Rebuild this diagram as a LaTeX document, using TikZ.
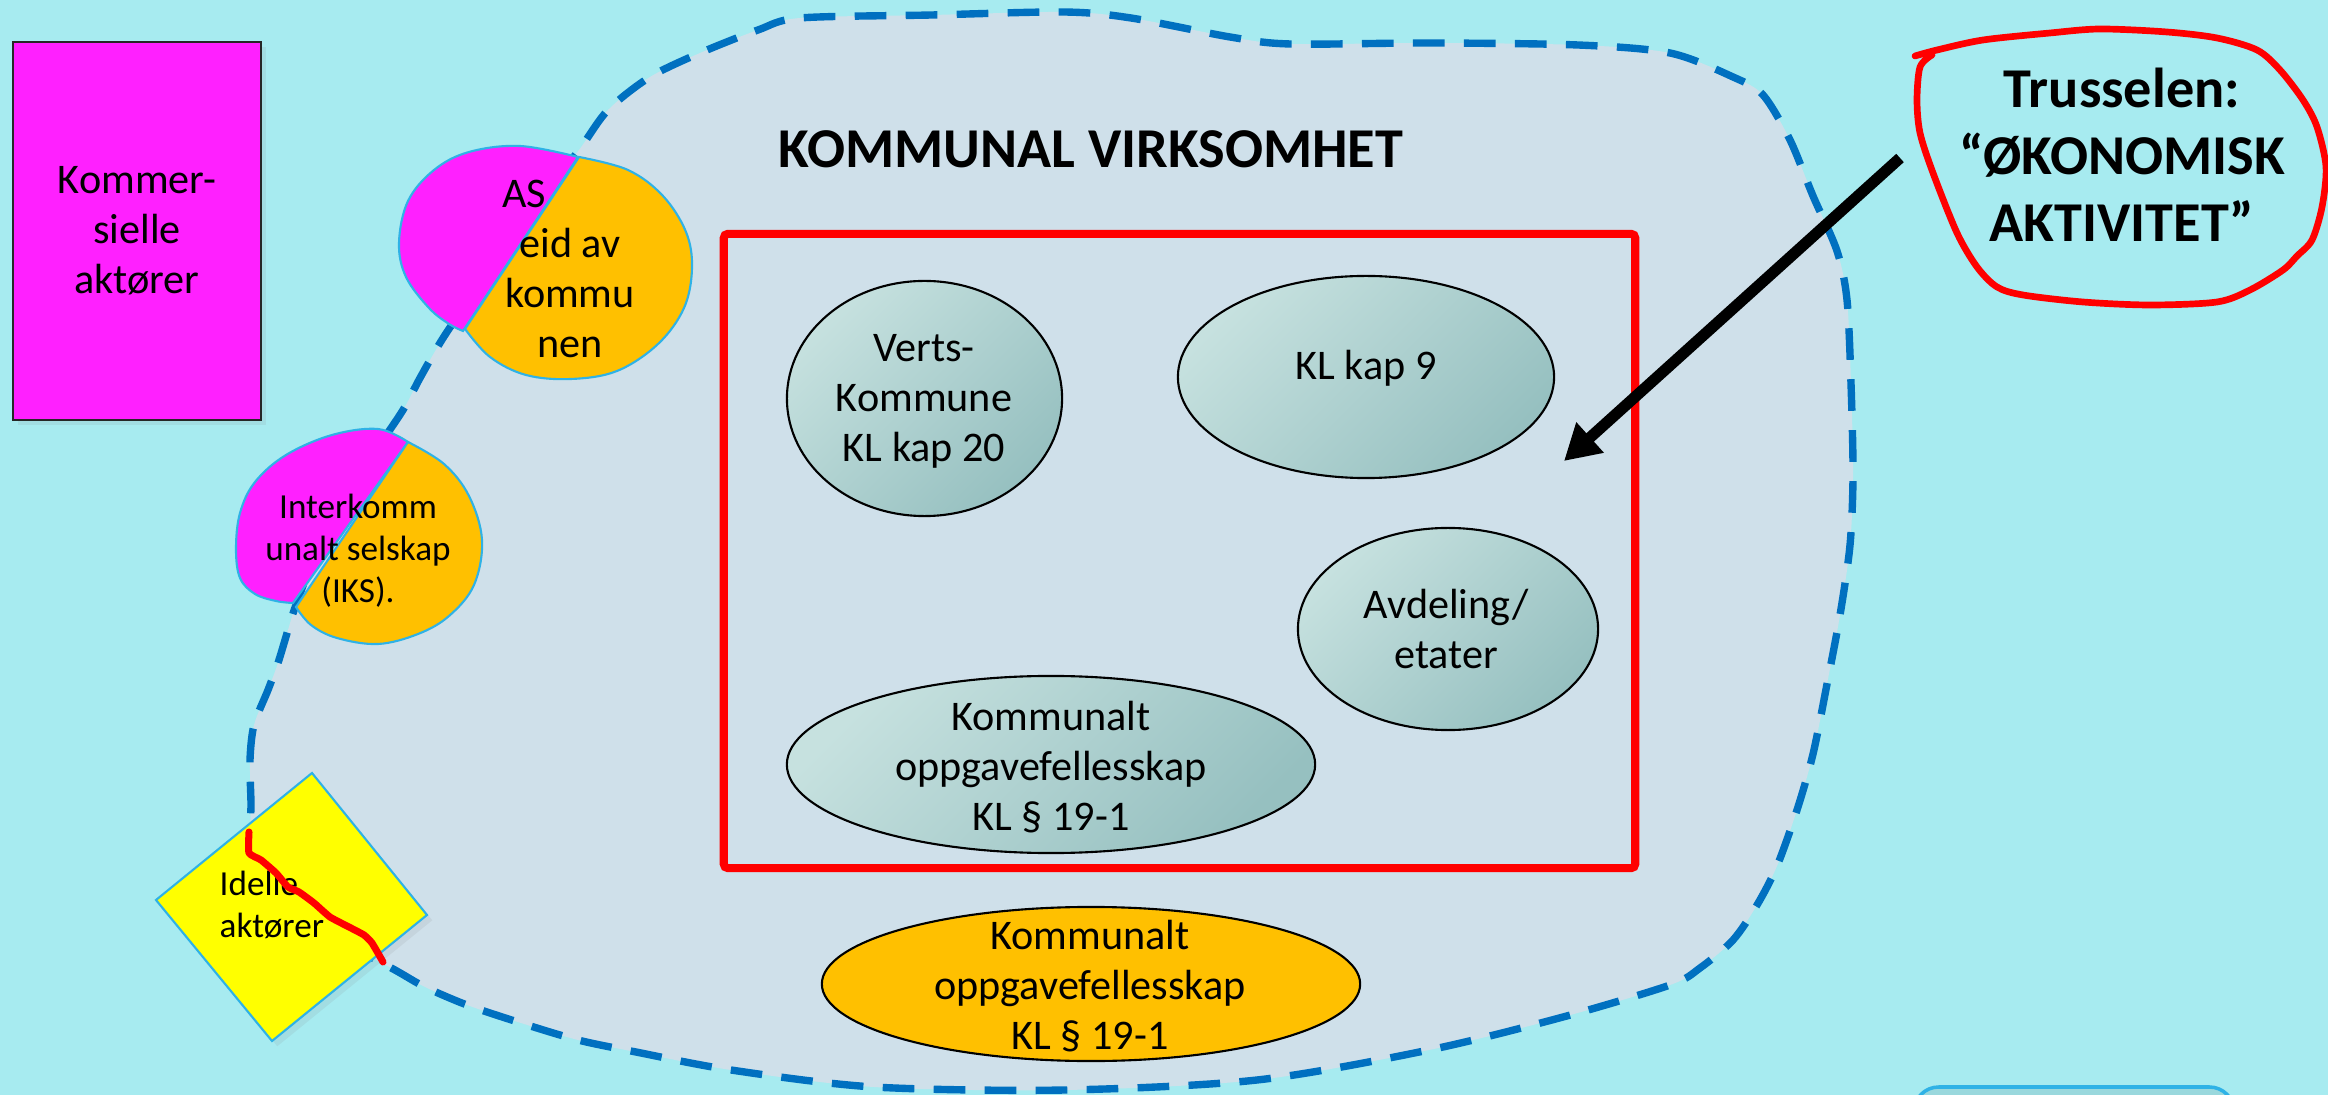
\documentclass[tikz,border=0pt]{standalone}
\usepackage{fontspec}
\setmainfont{Carlito}
\usetikzlibrary{arrows.meta,shadows,shapes.geometric}
\definecolor{bgc}{HTML}{A7EBF0}
\definecolor{blobc}{HTML}{CFE0EA}
\definecolor{dashc}{HTML}{0070C0}
\definecolor{mag}{HTML}{FF20FF}
\definecolor{org}{HTML}{FFC000}
\definecolor{yel}{HTML}{FFFF00}
\definecolor{edgec}{HTML}{2FB2E6}
\definecolor{ellL}{HTML}{C6E1DF}
\definecolor{ellR}{HTML}{96C0C0}
\definecolor{redc}{HTML}{FF0000}
\begin{document}
\begin{tikzpicture}[x=0.01cm,y=-0.01cm,
  txt/.style={inner sep=0pt, align=center, font=\fontsize{12}{14.2}\selectfont},
  smalltxt/.style={inner sep=0pt, align=center, font=\fontsize{10}{11.9}\selectfont},
  bigtxt/.style={inner sep=0pt, align=center, font=\bfseries\fontsize{16}{19}\selectfont},
  halfshape/.style={draw=edgec, line width=0.6pt},
  innerell/.style={ellipse, draw=black, line width=0.6pt, inner sep=0pt, outer sep=0pt,
     top color=ellL, bottom color=ellR, shading angle=45},
  shapeshadow/.style={drop shadow={shadow xshift=1.5pt, shadow yshift=-1.5pt, opacity=0.12}}
]
\useasboundingbox (0,0) rectangle (2328,1095);
\clip (0,0) rectangle (2328,1095);
\fill[bgc] (0,0) rectangle (2328,1095);

% blob of kommunal virksomhet
\path[fill=blobc, draw=dashc, line width=2.1pt, dash pattern=on 9pt off 5.5pt]
  plot[smooth cycle, tension=0.5] coordinates {
  (251,803) (250,760) (254,725) (268,690) (278,663) (288,630) (296,605)
  (320,545) (370,460) (403,410) (420,378) (445,335)
  (490,270) (540,200) (579,150) (608,110) (650,77) (700,53) (758,30) (800,18)
  (932,15) (1064,12) (1131,18) (1230,37) (1290,44) (1429,43) (1578,45)
  (1670,53) (1733,77) (1763,95) (1790,140) (1813,196) (1837,251) (1847,300)
  (1851,384) (1853,475) (1850,545) (1840,615) (1827,684) (1813,754) (1797,810)
  (1777,866) (1757,905) (1733,940) (1700,968) (1670,985) (1563,1017) (1429,1050)
  (1257,1080) (1065,1090) (874,1087) (731,1070) (636,1052) (578,1040) (521,1023)
  (467,1005) (425,987) (395,970) (340,940) (290,905) (260,870) (251,830)};

% Kommersielle aktorer
\node[txt, draw=black!85, line width=0.6pt, fill=mag, minimum width=2.48cm, minimum height=3.78cm, shapeshadow]
  (komm) at (137,231) {Kommer-\\sielle\\aktører};

% AS eid av kommunen
\path[halfshape, fill=mag] plot[smooth, tension=0.6] coordinates {
  (578,157) (520,146) (469,152) (434,170) (408,201) (399,243) (406,277) (429,308) (449,324) (463,331)} -- cycle;
\path[halfshape, fill=org] plot[smooth, tension=0.6] coordinates {
  (579,157) (628,170) (663,196) (686,232) (692,268) (684,308) (658,344) (617,371) (571,379) (526,375) (490,357) (465,329)} -- cycle;
\node[txt] (as) at (570,269) {\hspace*{-26pt}AS\\eid av\\kommu\\nen};

% Interkommunalt selskap
\path[halfshape, fill=mag] plot[smooth, tension=0.6] coordinates {
  (408,442) (378,429) (332,435) (286,455) (255,482) (240,513) (236,549) (240,578) (255,594) (276,601) (293,603)} -- cycle;
\path[halfshape, fill=org] plot[smooth, tension=0.6] coordinates {
  (408,442) (444,464) (469,496) (482,540) (474,585) (449,616) (418,634) (378,644) (337,638) (311,625) (296,607)} -- cycle;
\node[smalltxt] (iks) at (358,551) {Interkomm\\unalt selskap\\(IKS).};

% Idelle aktorer
\path[fill=yel, draw=edgec, line width=0.6pt, shapeshadow]
  (312,773) -- (427,915) -- (272,1041) -- (156,900) -- cycle;
\node[smalltxt, align=left, anchor=west] (idelle) at (219,905) {Idelle\\aktører};
\draw[redc, line width=2pt, line cap=round, line join=round]
  plot[smooth, tension=0.3] coordinates {(249,832) (249,853) (261,860) (276,873) (288,887) (299,892) (314,903) (330,917) (349,927) (364,935) (372,943) (383,962)};

% title
\node[bigtxt, anchor=base] (title) at (1091,168) {KOMMUNAL VIRKSOMHET};

% red frame
\node[draw=redc, line width=2.3pt, rounded corners=1.2pt, minimum width=9.11cm, minimum height=6.34cm, inner sep=0pt]
  (redbox) at (1179.5,551) {};

% inner ellipses
\node[innerell, minimum width=2.75cm, minimum height=2.35cm] (vertsE) at (924.5,398.5) {};
\node[txt] (verts) at (924,401) {Verts-\\Kommune\\KL kap 20};
\node[innerell, minimum width=3.76cm, minimum height=2.02cm] (kl9E) at (1366,377) {};
\node[txt] (kl9) at (1366,368) {KL kap 9};
\node[innerell, minimum width=3.00cm, minimum height=2.02cm] (avdE) at (1448,629) {};
\node[txt] (avd) at (1446,629) {Avdeling/\\etater};
\node[innerell, minimum width=5.28cm, minimum height=1.77cm] (koE) at (1051,764.5) {};
\node[txt] (ko) at (1051,767) {Kommunalt\\oppgavefellesskap\\KL § 19-1};

% bottom orange ellipse
\node[ellipse, draw=black, line width=0.6pt, fill=org, inner sep=0pt, minimum width=5.38cm, minimum height=1.54cm]
  (ko2E) at (1091,984) {};
\node[txt] (ko2) at (1090,986) {Kommunalt\\oppgavefellesskap\\KL § 19-1};

% threat
\coordinate (arrS) at (1900,158);
\coordinate (arrE) at (1564,461);
\draw[black, line width=3.2pt, -{Triangle[length=10pt,width=11pt]}] (arrS) -- (arrE);

\draw[redc, line width=1.9pt, line cap=round, line join=round]
  plot[smooth, tension=0.5] coordinates {
  (1915,56) (1937,50) (1983,40) (2050,33) (2100,29) (2167,32) (2217,38) (2257,50)
  (2280,70) (2303,100) (2317,127) (2326,167) (2322,207) (2312,240) (2297,256)
  (2283,270) (2250,290) (2217,302) (2150,305) (2083,302) (2023,295) (1997,287)
  (1977,267) (1957,233) (1933,173) (1920,133) (1917,100) (1920,67) (1932,55)};
\node[bigtxt] (trussel) at (2122,155) {Trusselen:\\“ØKONOMISK\\AKTIVITET”};

% partly visible box at bottom right
\draw[edgec, fill=bgc!92!black, line width=1pt, rounded corners=7pt] (1914,1087) rectangle (2234,1200);
\end{tikzpicture}
\end{document}
